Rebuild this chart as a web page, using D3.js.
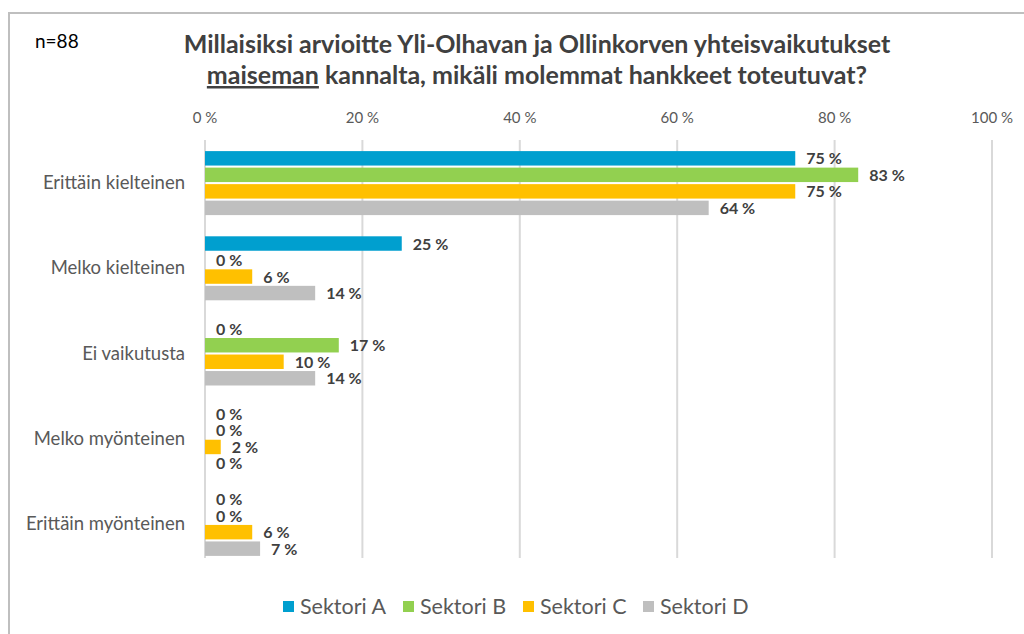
<!DOCTYPE html>
<html>
<head>
  <meta charset="utf-8">
  <script src="https://d3js.org/d3.v7.min.js"></script>
  <style>
    body { margin: 0; background: #fff; }
    text { font-family: Lato, "Open Sans", sans-serif; }
    .grid line { stroke: #d9d9d9; stroke-width: 2px; }
    .tick-label { fill: #595959; font-size: 15px; }
    .cat-label { fill: #595959; font-size: 18.5px; }
    .val { fill: #404040; font-size: 16px; font-weight: bold; }
    .title { fill: #404040; font-size: 25px; font-weight: bold; }
  </style>
</head>
<body>

<script>
  var width = 1024,
      height = 634;

  var categories = ["Erittäin kielteinen", "Melko kielteinen", "Ei vaikutusta", "Melko myönteinen", "Erittäin myönteinen"];
  var series = ["Sektori A", "Sektori B", "Sektori C", "Sektori D"];
  var colors = ["#009fcf", "#92d050", "#ffc000", "#bfbfbf"];
  var sektoriA = [75, 25, 0, 0, 0];
  var sektoriB = [83, 0, 17, 0, 0];
  var sektoriC = [75, 6, 10, 2, 6];
  var sektoriD = [64, 14, 14, 0, 7];
  var ticks = [0, 20, 40, 60, 80, 100];

  var values = [sektoriA, sektoriB, sektoriC, sektoriD];

  var svg = d3.select("body")
      .append("svg")
      .attr("width", width)
      .attr("height", height);

  // frame
  svg.append("path")
      .attr("d", "M9,634 V13 H1024")
      .attr("fill", "none")
      .attr("stroke", "#bfbfbf")
      .attr("stroke-width", 2);

  var x = d3.scaleLinear().domain([0, 100]).range([205, 992]);
  var y = d3.scaleBand().domain(categories).range([140.5, 566.5]);
  var inner = d3.scaleBand().domain(series).range([-32, 32]).paddingInner(0.125);

  // gridlines
  svg.append("g").attr("class", "grid")
    .selectAll("line")
    .data(ticks)
    .enter().append("line")
      .attr("x1", function(d) { return x(d); })
      .attr("x2", function(d) { return x(d); })
      .attr("y1", 140)
      .attr("y2", 558);

  svg.append("g")
    .selectAll("text")
    .data(ticks)
    .enter().append("text")
      .attr("class", "tick-label")
      .attr("x", function(d) { return x(d); })
      .attr("y", 123)
      .attr("text-anchor", "middle")
      .text(function(d) { return d + " %"; });

  // category labels
  svg.append("g")
    .selectAll("text")
    .data(categories)
    .enter().append("text")
      .attr("class", "cat-label")
      .attr("x", 185)
      .attr("y", function(d) { return y(d) + y.bandwidth() / 2 + 6; })
      .attr("text-anchor", "end")
      .text(function(d) { return d; });

  // bars
  var bars = [];
  categories.forEach(function(c, i) {
    series.forEach(function(s, j) {
      bars.push({ cat: c, ser: s, color: colors[j], v: values[j][i] });
    });
  });

  svg.append("g")
    .selectAll("rect")
    .data(bars.filter(function(d) { return d.v > 0; }))
    .enter().append("rect")
      .attr("x", x(0))
      .attr("y", function(d) { return y(d.cat) + y.bandwidth() / 2 + inner(d.ser); })
      .attr("width", function(d) { return x(d.v) - x(0); })
      .attr("height", inner.bandwidth())
      .attr("fill", function(d) { return d.color; });

  svg.append("g")
    .selectAll("text")
    .data(bars)
    .enter().append("text")
      .attr("class", "val")
      .attr("x", function(d) { return x(d.v) + 11; })
      .attr("y", function(d) { return y(d.cat) + y.bandwidth() / 2 + inner(d.ser) + inner.bandwidth() / 2 + 6; })
      .text(function(d) { return d.v + " %"; });

  // titles
  svg.append("text")
      .attr("x", 35).attr("y", 48)
      .attr("fill", "#000").style("font-size", "19px")
      .text("n=88");

  svg.append("text")
      .attr("class", "title")
      .attr("x", 537).attr("y", 53)
      .attr("text-anchor", "middle")
      .text("Millaisiksi arvioitte Yli-Olhavan ja Ollinkorven yhteisvaikutukset");

  var t2 = svg.append("text")
      .attr("class", "title")
      .attr("x", 537).attr("y", 84)
      .attr("text-anchor", "middle");
  t2.append("tspan").style("text-decoration", "underline").text("maiseman");
  t2.append("tspan").text(" kannalta, mikäli molemmat hankkeet toteutuvat?");

  // legend
  var legend = svg.append("g")
    .selectAll("g")
    .data(series)
    .enter().append("g")
      .attr("transform", function(d, i) { return "translate(" + (283 + i * 120) + ",601)"; });

  legend.append("rect")
      .attr("width", 11).attr("height", 11)
      .attr("fill", function(d, i) { return colors[i]; });

  legend.append("text")
      .attr("x", 17).attr("y", 13)
      .attr("fill", "#595959").style("font-size", "21.5px")
      .text(function(d) { return d; });
</script>

</body>
</html>
